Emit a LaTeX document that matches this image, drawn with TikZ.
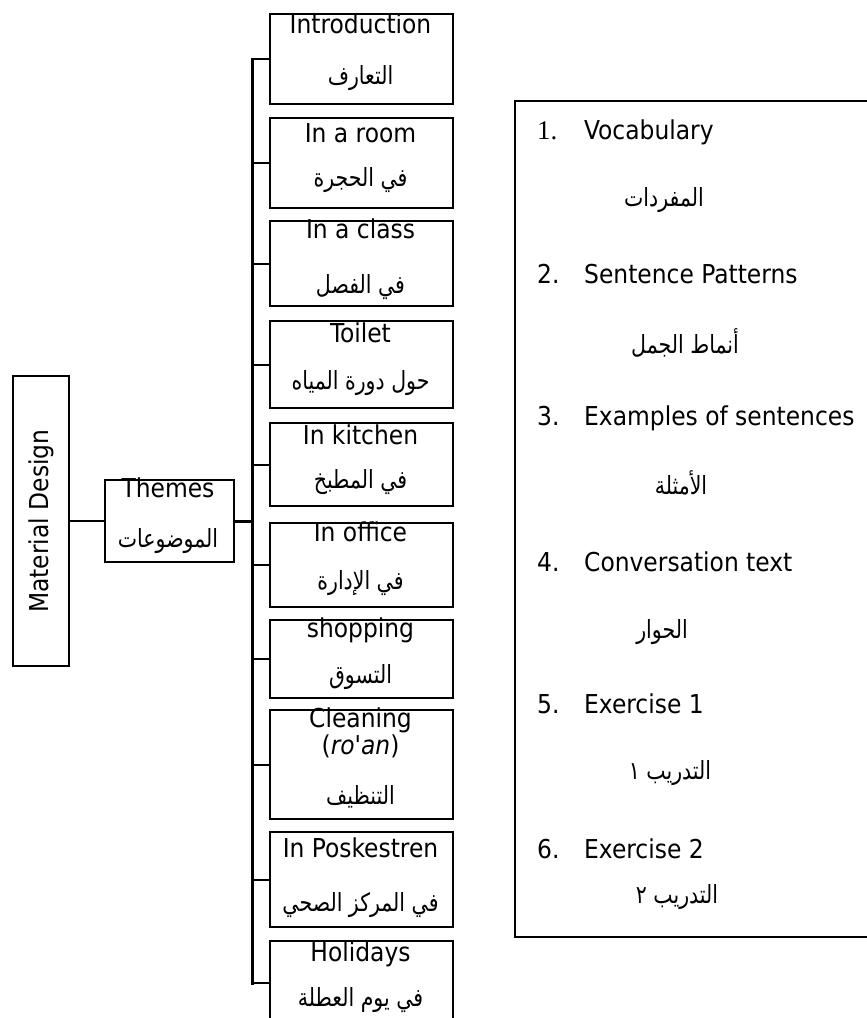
\documentclass[tikz,border=0pt]{standalone}
\usepackage{fontspec}
\TeXXeTstate=1
\newfontfamily\enfont{DejaVu Sans Condensed}
\newfontfamily\arfont[Script=Arabic,FakeStretch=0.82]{DejaVu Sans}
\newfontfamily\numfont{Liberation Serif}
\begin{document}
\begin{tikzpicture}[x=1pt,y=-1pt,
  box/.style={draw, line width=2.2pt, inner sep=0pt, anchor=north west},
  en/.style={font=\enfont\fontsize{26}{27}\selectfont, inner sep=0pt, align=center, anchor=base},
  ar/.style={font=\arfont\fontsize{25}{28}\selectfont, inner sep=0pt},
  num/.style={font=\numfont\fontsize{27}{27}\selectfont, inner sep=0pt, anchor=base west},
  link/.style={line width=2.2pt},
  spine/.style={line width=3pt, line cap=rect}]
\useasboundingbox (0,0) rectangle (867,1018);

% Material Design
\node[box, minimum width=56pt, minimum height=290pt] (md) at (12,375) {};
\node[en, anchor=center, rotate=90] (mdt) at (md.center) {Material Design};

% Themes
\node[box, minimum width=129pt, minimum height=82pt] (th) at (104,479) {};
\node[en] (tht) at (168,497) {Themes};
\node[ar] (tha) at (168,541) {\beginR الموضوعات\endR};

% theme boxes
\foreach \i/\t/\h/\ey/\ay/\e/\a in {
  1/13/90/33/78/Introduction/التعارف,
  2/117/90/142/180/In a room/في الحجرة,
  3/220/85/238/287/In a class/في الفصل,
  4/320/87/342/383/Toilet/حول دورة المياه,
  5/422/83/444/482/In kitchen/في المطبخ,
  6/522/84/541/583/In office/في الإدارة,
  7/619/78/637/677/shopping/التسوق,
  9/831/95/857/905/In Poskestren/في المركز الصحي,
  10/940/84/961/1000/Holidays/في يوم العطلة}{
  \node[box, minimum width=183pt, minimum height=\h pt] (b\i) at (269,\t) {};
  \node[en] (e\i) at (360.5,\ey) {\e};
  \node[ar] (a\i) at (360.5,\ay) {\beginR \a\endR};
}
\node[box, minimum width=183pt, minimum height=109pt] (b8) at (269,709) {};
\node[en] (e8) at (360.5,727) {Cleaning};
\node[en] (e8b) at (360.5,754) {(\textit{ro\textquotesingle an})};
\node[ar] (a8) at (360.5,797) {\beginR التنظيف\endR};

% connectors
\coordinate (sx) at (252,520);
\draw[link] (md.east) -- (th.west);
\draw[spine] (b1.west -| sx) -- (b10.west -| sx);
\draw[spine] (th.east) -- (th.east -| sx);
\foreach \i in {1,...,10}{
  \draw[link] (b\i.west -| sx) -- (b\i.west);
}

% right list box
\node[box, minimum width=400pt, minimum height=836pt] (lst) at (514,100) {};
\node[num] (n1) at (537,139) {1.};
\node[en, anchor=base west] (i1) at (584,139) {Vocabulary};
\node[ar] (r1) at (664,200) {\beginR المفردات\endR};
\node[en, anchor=base west] (n2) at (537,283) {2.};
\node[en, anchor=base west] (i2) at (584,283) {Sentence Patterns};
\node[ar] (r2) at (685,343) {\beginR أنماط الجمل\endR};
\node[en, anchor=base west] (n3) at (537,425) {3.};
\node[en, anchor=base west] (i3) at (584,425) {Examples of sentences};
\node[ar] (r3) at (681,483) {\beginR الأمثلة\endR};
\node[en, anchor=base west] (n4) at (537,571) {4.};
\node[en, anchor=base west] (i4) at (584,571) {Conversation text};
\node[ar] (r4) at (662,632) {\beginR الحوار\endR};
\node[en, anchor=base west] (n5) at (537,713) {5.};
\node[en, anchor=base west] (i5) at (584,713) {Exercise 1};
\node[ar] (r5) at (670,773) {\beginR التدريب ١\endR};
\node[en, anchor=base west] (n6) at (537,858) {6.};
\node[en, anchor=base west] (i6) at (584,858) {Exercise 2};
\node[ar] (r6) at (677,897) {\beginR التدريب ٢\endR};
\end{tikzpicture}
\end{document}
